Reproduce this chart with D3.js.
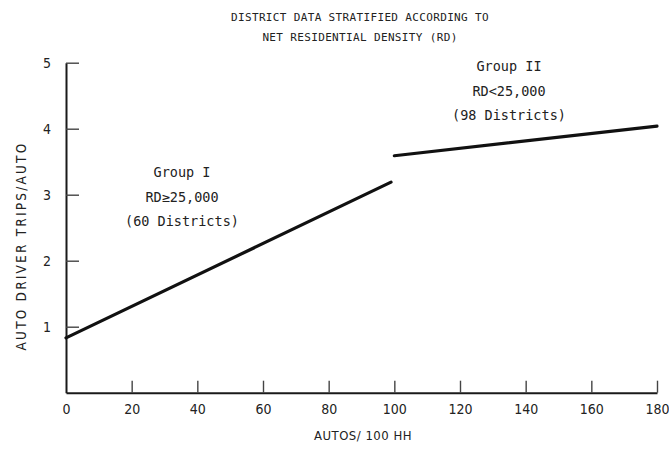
<!DOCTYPE html>
<html>
<head>
<meta charset="utf-8">
<script src="https://cdn.jsdelivr.net/npm/d3@7"></script>
<style>
  html, body { margin: 0; padding: 0; background: #fff; }
  svg { display: block; }
  .mono { font-family: "DejaVu Sans Mono", monospace; fill: #222; }
  .cond { font-family: "DejaVu Sans Condensed", "DejaVu Sans", sans-serif; fill: #222; }
</style>
</head>
<body>
<svg id="chart" width="669" height="450"></svg>
<script>
// ---- data ----
const titleLines = ["DISTRICT DATA STRATIFIED ACCORDING TO", "NET RESIDENTIAL DENSITY (RD)"];
const xLabel = "AUTOS/ 100 HH";
const yLabel = "AUTO DRIVER TRIPS/AUTO";
const xTicks = [0, 20, 40, 60, 80, 100, 120, 140, 160, 180];
const yTicks = [1, 2, 3, 4, 5];
const group1X = [0, 99];
const group1Y = [0.83, 3.19];
const group2X = [100, 180];
const group2Y = [3.59, 4.04];
const group1Text = ["Group I", "RD\u226525,000", "(60 Districts)"];
const group2Text = ["Group II", "RD<25,000", "(98 Districts)"];

// ---- layout ----
const svg = d3.select("#chart");
const x = d3.scaleLinear().domain([0, 180]).range([66, 657]);
const y = d3.scaleLinear().domain([0, 5]).range([392.7, 62.7]);

// title
svg.selectAll("text.title").data(titleLines).enter().append("text")
  .attr("class", "mono title")
  .attr("x", 360).attr("y", (d, i) => 21 + i * 20)
  .attr("text-anchor", "middle")
  .style("font-size", "11px").style("letter-spacing", "0.35px")
  .text(d => d);

// axes
const xAxis = d3.axisBottom(x).tickValues(xTicks).tickSizeInner(-12).tickSizeOuter(0).tickPadding(11)
  .tickFormat(d3.format("d"));
const yAxis = d3.axisLeft(y).tickValues(yTicks).tickSizeInner(-13).tickSizeOuter(0).tickPadding(15)
  .tickFormat(d3.format("d"));

const gx = svg.append("g").attr("transform", `translate(0,${y(0)})`).call(xAxis);
const gy = svg.append("g").attr("transform", `translate(${x(0)},0)`).call(yAxis);

[gx, gy].forEach(g => {
  g.select(".domain").attr("stroke", "#1a1a1a").attr("stroke-width", 2);
  g.selectAll(".tick line").attr("stroke", "#444").attr("stroke-width", 1.4);
  g.selectAll(".tick text").attr("class", "cond").style("font-size", "14px").attr("fill", "#222");
});
gx.selectAll(".tick").filter(d => d === 0).select("line").remove();

// axis labels
svg.append("text").attr("class", "cond")
  .attr("x", 363).attr("y", 440).attr("text-anchor", "middle")
  .style("font-size", "13px").style("letter-spacing", "0.5px")
  .text(xLabel);
svg.append("text").attr("class", "cond")
  .attr("transform", "translate(26,246) rotate(-90)")
  .attr("text-anchor", "middle")
  .style("font-size", "13.5px").style("letter-spacing", "2.2px")
  .text(yLabel);

// lines
const line = d3.line().x(d => x(d[0])).y(d => y(d[1]));
const series = [d3.zip(group1X, group1Y), d3.zip(group2X, group2Y)];
svg.selectAll("path.series").data(series).enter().append("path")
  .attr("class", "series")
  .attr("d", line)
  .attr("fill", "none").attr("stroke", "#111").attr("stroke-width", 3.2)
  .attr("stroke-linecap", "round");

// annotations
function annot(lines, cx, y0) {
  svg.selectAll(null).data(lines).enter().append("text")
    .attr("class", "mono")
    .attr("x", cx).attr("y", (d, i) => y0 + i * 24.5)
    .attr("text-anchor", "middle")
    .style("font-size", "13.5px")
    .text(d => d);
}
annot(group1Text, 182, 177);
annot(group2Text, 509, 71);
</script>
</body>
</html>
